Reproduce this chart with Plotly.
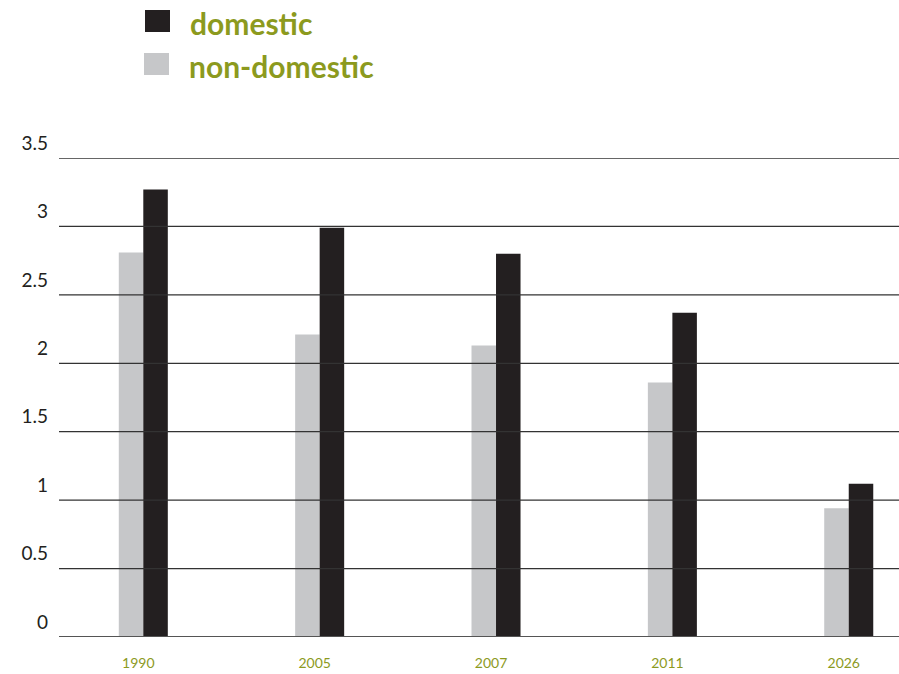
import plotly.graph_objects as go

years = ["1990", "2005", "2007", "2011", "2026"]
non_domestic = [2.81, 2.21, 2.13, 1.86, 0.94]
domestic = [3.27, 2.99, 2.80, 2.37, 1.12]
y_ticks = [0, 0.5, 1, 1.5, 2, 2.5, 3, 3.5]
y_tick_text = ["0", "0.5", "1", "1.5", "2", "2.5", "3", "3.5"]

DARK = "#231F20"
GREY = "#C6C7C9"
OLIVE = "#8C9A1E"
FONT = "Lato"

fig = go.Figure()
fig.add_trace(go.Bar(x=years, y=non_domestic, name="non-domestic",
                     marker=dict(color=GREY, line=dict(width=0))))
fig.add_trace(go.Bar(x=years, y=domestic, name="domestic",
                     marker=dict(color=DARK, line=dict(width=0))))

# gridlines drawn above the bars, from tick values
shapes = []
for v in y_ticks:
    shapes.append(dict(type="line", xref="paper", x0=0, x1=1, yref="y", y0=v, y1=v,
                       layer="above",
                       line=dict(color="#555555" if v == 0 else "#333333",
                                 width=2 if v == 0 else 1.3)))

# legend (manual)
W, H = 899, 674
ml, mr, mt, mb = 59, 0, 158, 37
pw, ph = W - ml - mr, H - mt - mb
def px(x):
    return (x - ml) / pw
def py(y):
    return (H - mb - y) / ph

shapes.append(dict(type="rect", xref="paper", yref="paper",
                   x0=px(145), x1=px(170), y0=py(32), y1=py(10),
                   fillcolor=DARK, line=dict(width=0), layer="above"))
shapes.append(dict(type="rect", xref="paper", yref="paper",
                   x0=px(144), x1=px(169), y0=py(75), y1=py(53),
                   fillcolor=GREY, line=dict(width=0), layer="above"))

annotations = [
    dict(text="<b>domestic</b>", xref="paper", yref="paper", x=px(188), y=py(23),
         xanchor="left", yanchor="middle", showarrow=False,
         font=dict(family=FONT, size=30, color=OLIVE)),
    dict(text="<b>non-domestic</b>", xref="paper", yref="paper", x=px(187), y=py(66),
         xanchor="left", yanchor="middle", showarrow=False,
         font=dict(family=FONT, size=30, color=OLIVE)),
]

fig.update_layout(
    width=W, height=H,
    margin=dict(l=ml, r=mr, t=mt, b=mb),
    paper_bgcolor="white", plot_bgcolor="white",
    barmode="group", bargap=0.722, bargroupgap=0,
    showlegend=False,
    shapes=shapes, annotations=annotations,
    xaxis=dict(type="category", range=[-0.478, 4.285], showgrid=False,
               zeroline=False, showline=False, ticks="",
               tickfont=dict(family=FONT, size=14, color=OLIVE),
               ticklabelshift=-5, ticklabelstandoff=16),
    yaxis=dict(range=[0, 3.5], tickvals=y_ticks, ticktext=y_tick_text,
               showgrid=False, zeroline=False, showline=False, ticks="",
               tickfont=dict(family=FONT, size=19, color=DARK),
               ticklabelshift=-15, ticklabelstandoff=10),
)

fig.write_html("out.html")
